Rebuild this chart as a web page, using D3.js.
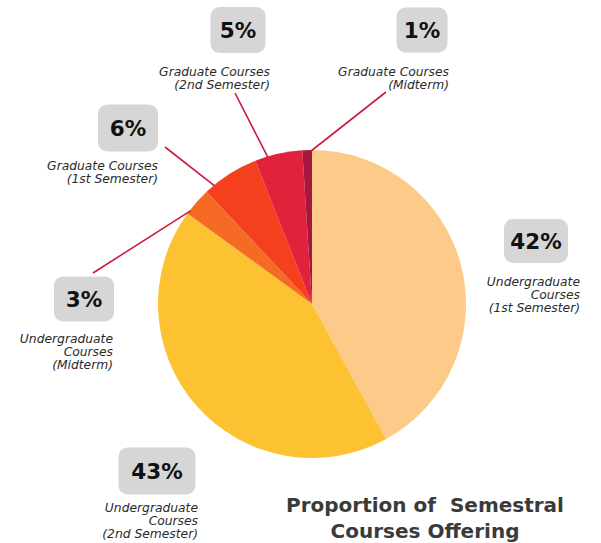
<!DOCTYPE html>
<html>
<head>
<meta charset="utf-8">
<script src="https://cdn.jsdelivr.net/npm/d3@7"></script>
<style>
  html, body { margin: 0; padding: 0; background: #ffffff; }
  svg { display: block; }
</style>
</head>
<body>
<svg id="chart" width="601" height="543"></svg>
<script>
// Share of semestral course offerings, clockwise from 12 o'clock
const categories = [
  "Undergraduate Courses (1st Semester)",
  "Undergraduate Courses (2nd Semester)",
  "Undergraduate Courses (Midterm)",
  "Graduate Courses (1st Semester)",
  "Graduate Courses (2nd Semester)",
  "Graduate Courses (Midterm)"
];
const values = [42, 43, 3, 6, 5, 1];
const labelLines = [
  ["Undergraduate", "Courses", "(1st Semester)"],
  ["Undergraduate", "Courses", "(2nd Semester)"],
  ["Undergraduate", "Courses", "(Midterm)"],
  ["Graduate Courses", "(1st Semester)"],
  ["Graduate Courses", "(2nd Semester)"],
  ["Graduate Courses", "(Midterm)"]
];
const sliceColors = ["#FDCA8A", "#FDC232", "#F56A24", "#F5401E", "#E0223A", "#A8163F"];
const titleLines = ["Proportion of  Semestral", "Courses Offering"];

// Callout placement: box centre, box size, right edge and first baseline of caption,
// optional leader line start and where along the slice it lands (0..1)
const callouts = [
  { cx: 536, cy: 241, w: 64, h: 44, textRight: 580, textTop: 286, lead: null },
  { cx: 157, cy: 471, w: 77, h: 47, textRight: 198, textTop: 512, lead: null },
  { cx: 84,  cy: 299, w: 60, h: 45, textRight: 113, textTop: 343, lead: { x: 93, y: 273, f: 0.15 } },
  { cx: 128, cy: 128, w: 60, h: 47, textRight: 158, textTop: 170, lead: { x: 165, y: 147, f: 0.17 } },
  { cx: 238, cy: 30,  w: 55, h: 46, textRight: 270, textTop: 76,  lead: { x: 235, y: 93, f: 0.27 } },
  { cx: 422, cy: 30,  w: 51, h: 45, textRight: 449, textTop: 76,  lead: { x: 386, y: 92, f: 0.9 } }
];

const svg = d3.select("#chart");
const cx = 312, cy = 304, radius = 154;

const pie = d3.pie().sort(null).value(d => d);
const arcs = pie(values);
const arc = d3.arc().innerRadius(0).outerRadius(radius);

const g = svg.append("g").attr("transform", `translate(${cx},${cy})`);
g.selectAll("path.slice")
  .data(arcs)
  .join("path")
  .attr("class", "slice")
  .attr("d", arc)
  .attr("fill", (d, i) => sliceColors[i]);

// Leader lines from callouts to their slices
arcs.forEach((d, i) => {
  const c = callouts[i];
  if (!c.lead) return;
  const a = d.startAngle + (d.endAngle - d.startAngle) * c.lead.f;
  const r = radius - 1;
  const ex = cx + r * Math.sin(a);
  const ey = cy - r * Math.cos(a);
  svg.append("line")
    .attr("x1", c.lead.x).attr("y1", c.lead.y)
    .attr("x2", ex).attr("y2", ey)
    .attr("stroke", "#C81E3C")
    .attr("stroke-width", 1.6);
});

// Percentage boxes and captions
arcs.forEach((d, i) => {
  const c = callouts[i];
  const lg = svg.append("g");
  lg.append("rect")
    .attr("x", c.cx - c.w / 2).attr("y", c.cy - c.h / 2)
    .attr("width", c.w).attr("height", c.h)
    .attr("rx", 9).attr("ry", 9)
    .attr("fill", "#D6D6D6");
  lg.append("text")
    .attr("x", c.cx).attr("y", c.cy + 8)
    .attr("text-anchor", "middle")
    .attr("font-family", "'DejaVu Sans', sans-serif")
    .attr("font-weight", "bold")
    .attr("font-size", 21.5)
    .attr("fill", "#111111")
    .text(d.data + "%");
  const t = lg.append("text")
    .attr("text-anchor", "end")
    .attr("font-family", "'DejaVu Sans', sans-serif")
    .attr("font-style", "italic")
    .attr("font-size", 12.3)
    .attr("fill", "#2b2b2b");
  labelLines[i].forEach((line, k) => {
    t.append("tspan")
      .attr("x", c.textRight)
      .attr("y", c.textTop + k * 13.2)
      .text(line);
  });
});

// Title
const title = svg.append("text")
  .attr("text-anchor", "middle")
  .attr("font-family", "'DejaVu Sans', sans-serif")
  .attr("font-weight", "bold")
  .attr("font-size", 20)
  .attr("fill", "#3a3a3a")
  .style("white-space", "pre");
titleLines.forEach((line, k) => {
  title.append("tspan")
    .attr("x", 425)
    .attr("y", 512 + k * 26)
    .text(line);
});
</script>
</body>
</html>
